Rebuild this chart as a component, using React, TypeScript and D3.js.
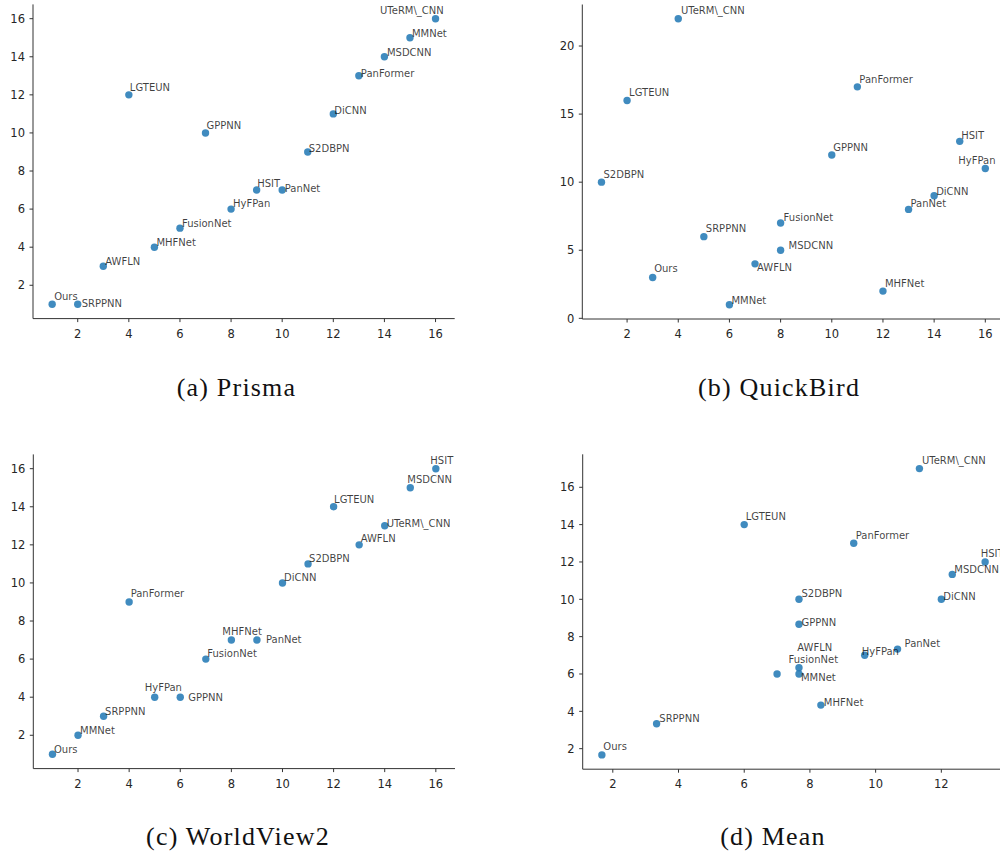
import React from "react";
import * as d3 from "d3";

// method names, in the same order for every panel
const methods = [
  "Ours", "SRPPNN", "AWFLN", "LGTEUN", "MHFNet", "FusionNet", "GPPNN", "HyFPan",
  "HSIT", "PanNet", "S2DBPN", "DiCNN", "PanFormer", "MSDCNN", "MMNet", "UTeRM\\_CNN",
];

const prismaX = [1, 2, 3, 4, 5, 6, 7, 8, 9, 10, 11, 12, 13, 14, 15, 16];
const prismaY = [1, 1, 3, 12, 4, 5, 10, 6, 7, 7, 9, 11, 13, 14, 15, 16];

const quickbirdX = [3, 5, 7, 2, 12, 8, 10, 16, 15, 13, 1, 14, 11, 8, 6, 4];
const quickbirdY = [3, 6, 4, 16, 2, 7, 12, 11, 13, 8, 10, 9, 17, 5, 1, 22];

const worldviewX = [1, 3, 13, 12, 8, 7, 6, 5, 16, 9, 11, 10, 4, 15, 2, 14];
const worldviewY = [1, 3, 12, 14, 7, 6, 4, 4, 16, 7, 11, 10, 9, 15, 2, 13];

const meanX = [1.667, 3.333, 7.667, 6, 8.333, 7, 7.667, 9.667, 13.333, 10.667, 7.667, 12, 9.333, 12.333, 7.667, 11.333];
const meanY = [1.667, 3.333, 6.333, 14, 4.333, 6, 8.667, 7, 12, 7.333, 10, 10, 13, 11.333, 6, 17];

const ticks2to16 = [2, 4, 6, 8, 10, 12, 14, 16];
const ticksQuickY = [0, 5, 10, 15, 20];
const ticksMeanX = [2, 4, 6, 8, 10, 12];

const captions = ["(a) Prisma", "(b) QuickBird", "(c) WorldView2", "(d) Mean"];

// label nudges in px (dx, dy from the dot), like adjustText left them
const DEF: [number, number] = [1.5, -3];
const nudges: Record<string, [number, number]>[] = [
  {
    "UTeRM\\_CNN": [-55.5, -4.7], MMNet: [2, -1], MSDCNN: [2.5, -1], PanFormer: [2, 1],
    LGTEUN: [1, -4], GPPNN: [1, -4], DiCNN: [1, 0.5], S2DBPN: [1, 0.3], HSIT: [0.5, -3.5],
    PanNet: [2.5, 2], HyFPan: [2, -2.5], FusionNet: [2, -1.5], MHFNet: [2, -1.5],
    AWFLN: [2, -1], Ours: [2, -4], SRPPNN: [4, 2.5],
  },
  {
    "UTeRM\\_CNN": [2.7, -4.8], PanFormer: [2, -4], LGTEUN: [2, -4.5], HSIT: [1.5, -2],
    GPPNN: [1.5, -4], HyFPan: [-27, -4.5], S2DBPN: [2, -4], DiCNN: [2, -1], PanNet: [2, -2],
    FusionNet: [3, -2], SRPPNN: [2, -4.5], MSDCNN: [8, -1], AWFLN: [2, 7], Ours: [1.5, -5],
    MHFNet: [2, -4.5], MMNet: [2, -0.5],
  },
  {
    HSIT: [-5.5, -4.7], MSDCNN: [-3, -4.4], LGTEUN: [0.5, -4], "UTeRM\\_CNN": [2, 1.5],
    AWFLN: [1.5, -3], S2DBPN: [1, -2], DiCNN: [1.5, -1.5], PanFormer: [1.5, -4.7],
    MHFNet: [-9, -5.5], PanNet: [9, 3], FusionNet: [1.5, -2], HyFPan: [-10, -6.5],
    GPPNN: [8, 3.5], SRPPNN: [1.5, -1.5], MMNet: [2, -1.5], Ours: [1.5, -1],
  },
  {
    "UTeRM\\_CNN": [2.5, -4.3], LGTEUN: [1.5, -4.6], PanFormer: [2, -4.6], HSIT: [-4.5, -4.6],
    MSDCNN: [2, -1.7], S2DBPN: [2.5, -2], DiCNN: [2, 0.7], GPPNN: [2.5, 1.8],
    AWFLN: [-1.7, -17], FusionNet: [11.5, -10.7], MMNet: [2, 6.7], HyFPan: [-3, -0.7],
    PanNet: [7, -2.5], MHFNet: [3, 0.8], SRPPNN: [2.7, -1.9], Ours: [1.5, -5],
  },
];

type Panel = {
  xs: number[]; ys: number[]; xTicks: number[]; yTicks: number[];
  box: [number, number, number, number]; // left, top, right, bottom
  caption: string; capX: number; capY: number;
};

const panels: Panel[] = [
  { xs: prismaX, ys: prismaY, xTicks: ticks2to16, yTicks: ticks2to16, box: [33, 4.4, 454.7, 318.6], caption: captions[0], capX: 236.5, capY: 396 },
  { xs: quickbirdX, ys: quickbirdY, xTicks: ticks2to16, yTicks: ticksQuickY, box: [582.3, 4.5, 1004.5, 319], caption: captions[1], capX: 779, capY: 396 },
  { xs: worldviewX, ys: worldviewY, xTicks: ticks2to16, yTicks: ticks2to16, box: [33.3, 454.4, 455, 768.6], caption: captions[2], capX: 238, capY: 845 },
  { xs: meanX, ys: meanY, xTicks: ticksMeanX, yTicks: ticks2to16, box: [582.7, 454.3, 1004.3, 769.2], caption: captions[3], capX: 773, capY: 845 },
];

const pad = (ext: [number, number]) => {
  const m = (ext[1] - ext[0]) * 0.05;
  return [ext[0] - m, ext[1] + m];
};

function Scatter({ p, nudge }: { p: Panel; nudge: Record<string, [number, number]> }) {
  const [l, t, r, b] = p.box;
  const x = d3.scaleLinear().domain(pad(d3.extent(p.xs) as [number, number])).range([l, r]);
  const y = d3.scaleLinear().domain(pad(d3.extent(p.ys) as [number, number])).range([b, t]);
  const tickCol = "#262626";
  return (
    <g>
      {/* spines, left + bottom only */}
      <line x1={l} x2={l} y1={t} y2={b} stroke="#333" strokeWidth={1} />
      <line x1={l} x2={r} y1={b} y2={b} stroke="#333" strokeWidth={1} />
      {p.xTicks.map((v) => (
        <g key={"x" + v}>
          <line x1={x(v)} x2={x(v)} y1={b} y2={b + 3.5} stroke="#333" />
          <text x={x(v)} y={b + 19} textAnchor="middle" fontSize={11.5} fill={tickCol}>{v}</text>
        </g>
      ))}
      {p.yTicks.map((v) => (
        <g key={"y" + v}>
          <line x1={l - 3.5} x2={l} y1={y(v)} y2={y(v)} stroke="#333" />
          <text x={l - 8} y={y(v) + 4.2} textAnchor="end" fontSize={11.5} fill={tickCol}>{v}</text>
        </g>
      ))}
      {methods.map((m, i) => (
        <circle key={m} cx={x(p.xs[i])} cy={y(p.ys[i])} r={3.7} fill="#1f77b4" fillOpacity={0.85} />
      ))}
      {methods.map((m, i) => {
        const [dx, dy] = nudge[m] || DEF;
        return (
          <text key={"t" + m} x={x(p.xs[i]) + dx} y={y(p.ys[i]) + dy} fontSize={10} fill="#000" fillOpacity={0.75}>
            {m}
          </text>
        );
      })}
      <text x={p.capX} y={p.capY} textAnchor="middle" fontFamily="'Liberation Serif', serif" fontSize={26} letterSpacing={1.2} fill="#111">
        {p.caption}
      </text>
    </g>
  );
}

export default function App() {
  return (
    <svg
      width={1000}
      height={855}
      style={{ position: "absolute", left: 0, top: 0, background: "#fff" }}
      fontFamily="'DejaVu Sans', sans-serif"
    >
      {panels.map((p, i) => (
        <Scatter key={i} p={p} nudge={nudges[i]} />
      ))}
    </svg>
  );
}
